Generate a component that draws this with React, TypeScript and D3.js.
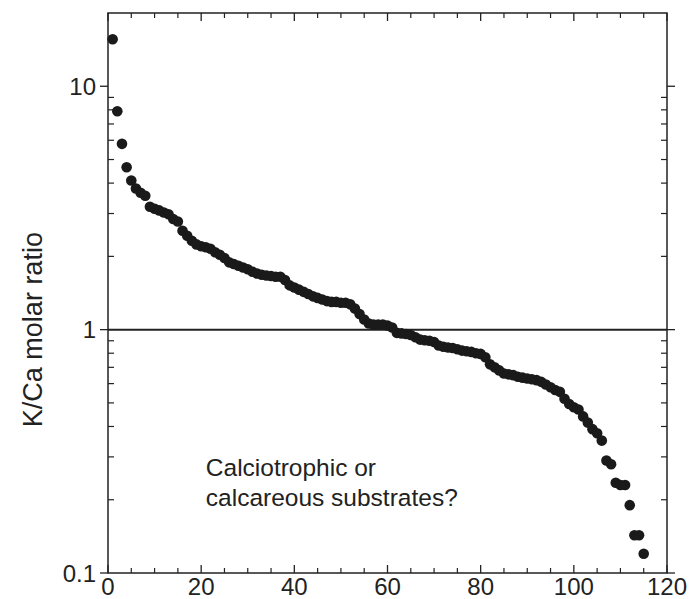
import React from 'react';
import * as d3 from 'd3';

// K/Ca molar ratio per sample, ranked high to low (rank 1..n)
const ratios = [
  15.6, 7.9, 5.8, 4.65, 4.1, 3.8, 3.65, 3.55, 3.2, 3.14,
  3.09, 3.03, 2.98, 2.85, 2.78, 2.55, 2.43, 2.32, 2.24, 2.2,
  2.18, 2.15, 2.08, 2.03, 1.97, 1.89, 1.86, 1.83, 1.8, 1.77,
  1.73, 1.7, 1.68, 1.67, 1.66, 1.65, 1.65, 1.6, 1.52, 1.49,
  1.46, 1.43, 1.4, 1.37, 1.35, 1.33, 1.31, 1.3, 1.3, 1.29,
  1.29, 1.27, 1.22, 1.16, 1.1, 1.06, 1.05, 1.05, 1.05, 1.04,
  1.02, 0.97, 0.965, 0.96, 0.95, 0.93, 0.91, 0.905, 0.9, 0.89,
  0.86, 0.85, 0.845, 0.84, 0.83, 0.82, 0.815, 0.81, 0.8, 0.795,
  0.77, 0.72, 0.7, 0.68, 0.66, 0.655, 0.65, 0.64, 0.635, 0.63,
  0.625, 0.62, 0.61, 0.595, 0.58, 0.565, 0.555, 0.52, 0.495, 0.48,
  0.47, 0.44, 0.415, 0.39, 0.375, 0.35, 0.29, 0.28, 0.235, 0.23,
  0.23, 0.19, 0.143, 0.143, 0.12,
];

const xMajor = [0, 20, 40, 60, 80, 100, 120];
const xMinor = [5, 10, 15, 25, 30, 35, 45, 50, 55, 65, 70, 75, 85, 90, 95, 105, 110, 115];
const yMajor = [0.1, 1, 10];
const yMajorLabels = ['0.1', '1', '10'];
const yMinor = [0.2, 0.3, 0.4, 0.5, 0.6, 0.7, 0.8, 0.9, 2, 3, 4, 5, 6, 7, 8, 9];

const W = 689;
const H = 599;
const margin = { top: 13, right: 22, bottom: 26, left: 108 };
const font = '"Liberation Sans", Arial, Helvetica, sans-serif';

export default function App() {
  const x = d3.scaleLinear().domain([0, 120]).range([margin.left, W - margin.right]);
  const y = d3.scaleLog().domain([0.1, 20]).range([H - margin.bottom, margin.top]);
  const [x0, x1] = x.range();
  const [y0, y1] = y.range(); // y0 bottom, y1 top

  const majorLen = 8;
  const minorLen = 5;

  return (
    <svg
      width={W}
      height={H}
      style={{ position: 'absolute', left: 0, top: 0, background: '#fff' }}
      fontFamily={font}
    >
      {/* frame */}
      <rect x={x0} y={y1} width={x1 - x0} height={y0 - y1} fill="none" stroke="#222" strokeWidth={1.5} />

      {/* reference line at ratio = 1 */}
      <line x1={x0} x2={x1} y1={y(1)} y2={y(1)} stroke="#222" strokeWidth={2} />

      {/* bottom + top ticks (inward) */}
      {xMajor.map(t => (
        <g key={'xM' + t}>
          <line x1={x(t)} x2={x(t)} y1={y0} y2={y0 - majorLen} stroke="#222" strokeWidth={1.3} />
          <line x1={x(t)} x2={x(t)} y1={y1} y2={y1 + majorLen} stroke="#222" strokeWidth={1.3} />
          <text x={x(t)} y={H - 4} textAnchor="middle" fontSize={24} fill="#222">{t}</text>
        </g>
      ))}
      {xMinor.map(t => (
        <g key={'xm' + t}>
          <line x1={x(t)} x2={x(t)} y1={y0} y2={y0 - minorLen} stroke="#222" strokeWidth={1.2} />
          <line x1={x(t)} x2={x(t)} y1={y1} y2={y1 + minorLen} stroke="#222" strokeWidth={1.2} />
        </g>
      ))}

      {/* left + right ticks: majors outward, minors inward */}
      {yMajor.map((t, i) => (
        <g key={'yM' + t}>
          <line x1={x0 - majorLen} x2={x0} y1={y(t)} y2={y(t)} stroke="#222" strokeWidth={1.3} />
          <line x1={x1} x2={x1 + majorLen} y1={y(t)} y2={y(t)} stroke="#222" strokeWidth={1.3} />
          <text x={x0 - 12} y={y(t)} dy="0.36em" textAnchor="end" fontSize={24} fill="#222">
            {yMajorLabels[i]}
          </text>
        </g>
      ))}
      {yMinor.map(t => (
        <g key={'ym' + t}>
          <line x1={x0} x2={x0 + minorLen + 1} y1={y(t)} y2={y(t)} stroke="#222" strokeWidth={1.2} />
          <line x1={x1 - minorLen - 1} x2={x1} y1={y(t)} y2={y(t)} stroke="#222" strokeWidth={1.2} />
        </g>
      ))}

      {/* data points */}
      {ratios.map((v, i) => (
        <circle key={i} cx={x(i + 1)} cy={y(v)} r={5.3} fill="#1a1a1a" />
      ))}

      {/* axis title */}
      <text
        transform={`translate(${42},${y(1)}) rotate(-90)`}
        textAnchor="middle"
        fontSize={27}
        fill="#222"
      >
        K/Ca molar ratio
      </text>

      {/* annotation */}
      <text x={x(21)} y={476} fontSize={24.5} fill="#222">
        <tspan x={x(21)}>Calciotrophic or</tspan>
        <tspan x={x(21)} dy={30}>calcareous substrates?</tspan>
      </text>
    </svg>
  );
}
